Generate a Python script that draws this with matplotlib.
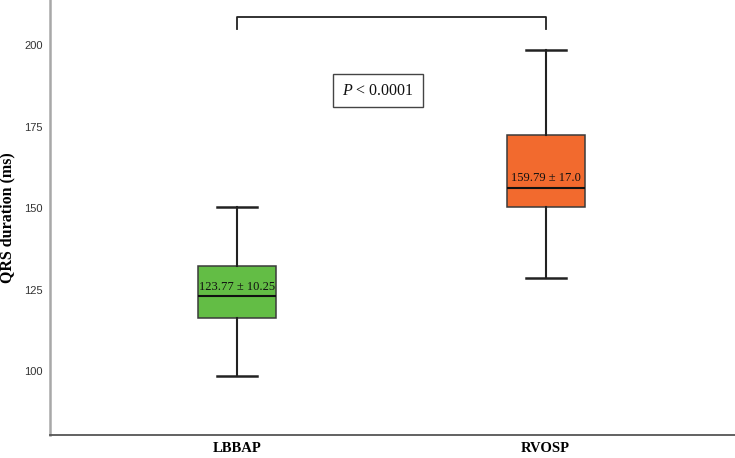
import matplotlib
matplotlib.use("Agg")
import matplotlib.pyplot as plt

categories = ["LBBAP", "RVOSP"]
whisker_low = [98.5, 128.4]
q1 = [116.4, 150.4]
median = [123.0, 156.3]
q3 = [132.3, 172.4]
whisker_high = [150.4, 198.5]
means = [123.77, 159.79]
sds = [10.25, 17.0]
mean_labels = ["123.77 \u00b1 10.25", "159.79 \u00b1 17.0"]
yticks = [100, 125, 150, 175, 200]
box_colors = ["#63bd45", "#f26a2e"]
p_text = r"$P$ < 0.0001"

plt.rcParams["mathtext.fontset"] = "custom"
plt.rcParams["mathtext.rm"] = "Liberation Serif"
plt.rcParams["mathtext.it"] = "Liberation Serif:italic"

fig = plt.figure(figsize=(7.35, 4.58), dpi=100)
ax = fig.add_axes([49.5 / 735, 23 / 458, 1 - 49.5 / 735, 1 - 23 / 458])

positions = list(range(len(categories)))
stats = []
for i in positions:
    stats.append(dict(med=median[i], q1=q1[i], q3=q3[i],
                      whislo=whisker_low[i], whishi=whisker_high[i],
                      fliers=[], label=categories[i]))

bp = ax.bxp(stats, positions=positions, widths=0.253, capwidths=0.13,
            patch_artist=True, showfliers=False,
            boxprops=dict(edgecolor="#3a3a3a", linewidth=1.1),
            medianprops=dict(color="#111111", linewidth=1.5),
            whiskerprops=dict(color="#222222", linewidth=1.5),
            capprops=dict(color="#222222", linewidth=1.8))
for patch, c in zip(bp["boxes"], box_colors):
    patch.set_facecolor(c)

for i in positions:
    ax.text(positions[i], median[i] + 1.9, mean_labels[i], ha="center",
            va="baseline", fontsize=9, family="Liberation Serif",
            color="#111111", zorder=5)

# significance bracket
top = max(whisker_high) + 10.1
ax.plot([positions[0], positions[0], positions[1], positions[1]],
        [top - 3.7, top, top, top - 3.7], color="#222222", lw=1.3,
        clip_on=False)

ax.text(0.457, 186.0, p_text, ha="center", va="center", fontsize=11.5,
        family="Liberation Serif", color="#111111",
        bbox=dict(boxstyle="square,pad=0.55", facecolor="white",
                  edgecolor="#444444", linewidth=1.0))

ax.set_xlim(-0.608, 1.614)
ax.set_ylim(80.4, 213.8)
ax.set_xticks(positions)
ax.set_xticklabels(categories, family="Liberation Serif", fontweight="bold",
                   fontsize=10.5)
ax.set_yticks(yticks)
ax.set_yticklabels([str(t) for t in yticks], family="Liberation Sans",
                   fontsize=8, color="#333333")
ax.tick_params(axis="both", length=0)
ax.tick_params(axis="x", pad=5)
ax.tick_params(axis="y", pad=5)
ax.set_ylabel("QRS duration (ms)", family="Liberation Serif",
              fontweight="bold", fontsize=11.5)
ax.yaxis.set_label_coords(-34 / 685.5, 0.5)

for s in ["top", "right"]:
    ax.spines[s].set_visible(False)
ax.spines["left"].set_color("#a8a8a8")
ax.spines["left"].set_linewidth(1.8)
ax.spines["bottom"].set_color("#555555")
ax.spines["bottom"].set_linewidth(1.3)

fig.savefig("out.png", dpi=100)
